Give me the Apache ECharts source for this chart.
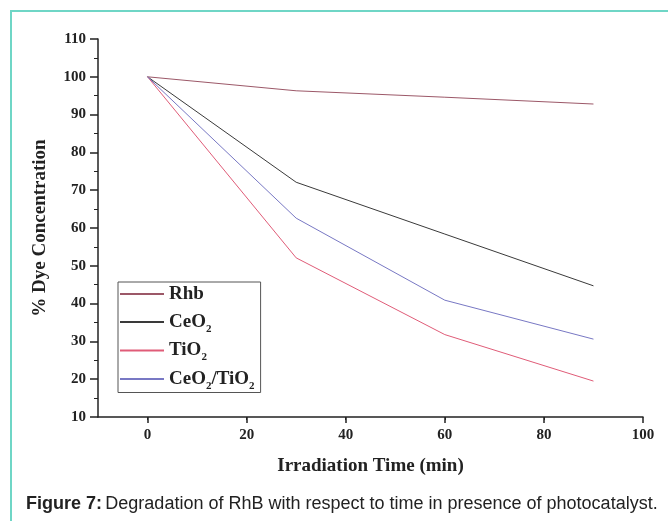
<!DOCTYPE html>
<html>
<head>
<meta charset="utf-8">
<script src="https://cdn.jsdelivr.net/npm/echarts@6/dist/echarts.min.js"></script>
<style>
  html, body { margin: 0; padding: 0; background: #fff; }
  #main { width: 668px; height: 521px; }
</style>
</head>
<body>
<div id="main"></div>
<script>
// irradiation time, min
var times = [0, 30, 60, 90];
var rhb = [100, 96.3, 94.6, 92.8];
var ceo2 = [100, 72.1, 58.4, 44.7];
var tio2 = [100, 52.1, 31.8, 19.5];
var ceo2Tio2 = [100, 62.6, 40.9, 30.6];

var seriesNames = ['Rhb', 'CeO2', 'TiO2', 'CeO2/TiO2'];
var colors = ['#9c5868', '#3a3a3a', '#e05c78', '#7878c4'];
var seriesData = [rhb, ceo2, tio2, ceo2Tio2];
var xTicks = [0, 20, 40, 60, 80, 100];

var serif = '"Liberation Serif", "Times New Roman", serif';
var sans = '"Liberation Sans", Arial, sans-serif';
var teal = '#6fd6c6';

function pairs(vals) {
    return times.map(function (t, i) { return [t, vals[i]]; });
}

var series = seriesNames.map(function (name, i) {
    return {
        name: name,
        type: 'line',
        data: pairs(seriesData[i]),
        symbol: 'none',
        lineStyle: { color: colors[i], width: 1 },
        itemStyle: { color: colors[i] },
        z: 3
    };
});

var myChart = echarts.init(document.getElementById('main'));

var option = {
    backgroundColor: '#fff',
    animation: false,
    grid: { left: 98, right: 25, top: 39, bottom: 104 },
    legend: {
        orient: 'vertical',
        left: 118,
        top: 282,
        itemWidth: 44,
        itemHeight: 2,
        itemGap: 4,
        padding: [0, 6, 1, 2],
        borderColor: '#555',
        borderWidth: 1,
        backgroundColor: '#fff',
        icon: 'rect',
        data: seriesNames,
        formatter: function (name) {
            if (name === 'CeO2') return '{n|CeO}{s|2}';
            if (name === 'TiO2') return '{n|TiO}{s|2}';
            if (name === 'CeO2/TiO2') return '{n|CeO}{s|2}{n|/TiO}{s|2}';
            return '{n|' + name + '}';
        },
        textStyle: {
            rich: {
                n: { fontFamily: serif, fontWeight: 'bold', fontSize: 19, color: '#222', height: 24, lineHeight: 24 },
                s: { fontFamily: serif, fontWeight: 'bold', fontSize: 11, color: '#222', verticalAlign: 'bottom', padding: [14, 0, 0, 0] }
            }
        }
    },
    xAxis: {
        type: 'value',
        min: -10,
        max: 100,
        interval: 20,
        name: 'Irradiation Time (min)',
        nameLocation: 'middle',
        nameGap: 40,
        nameTextStyle: { fontFamily: serif, fontWeight: 'bold', fontSize: 19, color: '#222' },
        axisLine: { lineStyle: { color: '#222', width: 1.5 } },
        axisTick: { show: true, length: 6, lineStyle: { color: '#222', width: 1.5 }, customValues: xTicks },
        minorTick: { show: true, splitNumber: 2, length: 3, lineStyle: { color: '#222' } },
        axisLabel: { fontFamily: serif, fontWeight: 'bold', fontSize: 15, color: '#222', margin: 11, customValues: xTicks },
        splitLine: { show: false }
    },
    yAxis: {
        type: 'value',
        min: 10,
        max: 110,
        interval: 10,
        name: '% Dye Concentration',
        nameLocation: 'middle',
        nameGap: 48,
        nameTextStyle: { fontFamily: serif, fontWeight: 'bold', fontSize: 19, color: '#222' },
        axisLine: { show: true, onZero: false, lineStyle: { color: '#222', width: 1.5 } },
        axisTick: { show: true, length: 8, lineStyle: { color: '#222', width: 1.5 } },
        minorTick: { show: true, splitNumber: 2, length: 4, lineStyle: { color: '#222' } },
        axisLabel: { fontFamily: serif, fontWeight: 'bold', fontSize: 15, color: '#222', margin: 12 },
        splitLine: { show: false }
    },
    graphic: [
        { type: 'line', shape: { x1: 10, y1: 11, x2: 668, y2: 11 }, style: { stroke: teal, lineWidth: 2 } },
        { type: 'line', shape: { x1: 11, y1: 10, x2: 11, y2: 521 }, style: { stroke: teal, lineWidth: 2 } },
        {
            type: 'text', left: 26, top: 495,
            style: {
                text: '{b|Figure 7:} {r|Degradation of RhB with respect to time in presence of photocatalyst.}',
                rich: {
                    b: { fontFamily: sans, fontWeight: 'bold', fontSize: 18, fill: '#222' },
                    r: { fontFamily: sans, fontSize: 18, fill: '#222' }
                }
            }
        }
    ],
    series: series
};

myChart.setOption(option);
</script>
</body>
</html>
